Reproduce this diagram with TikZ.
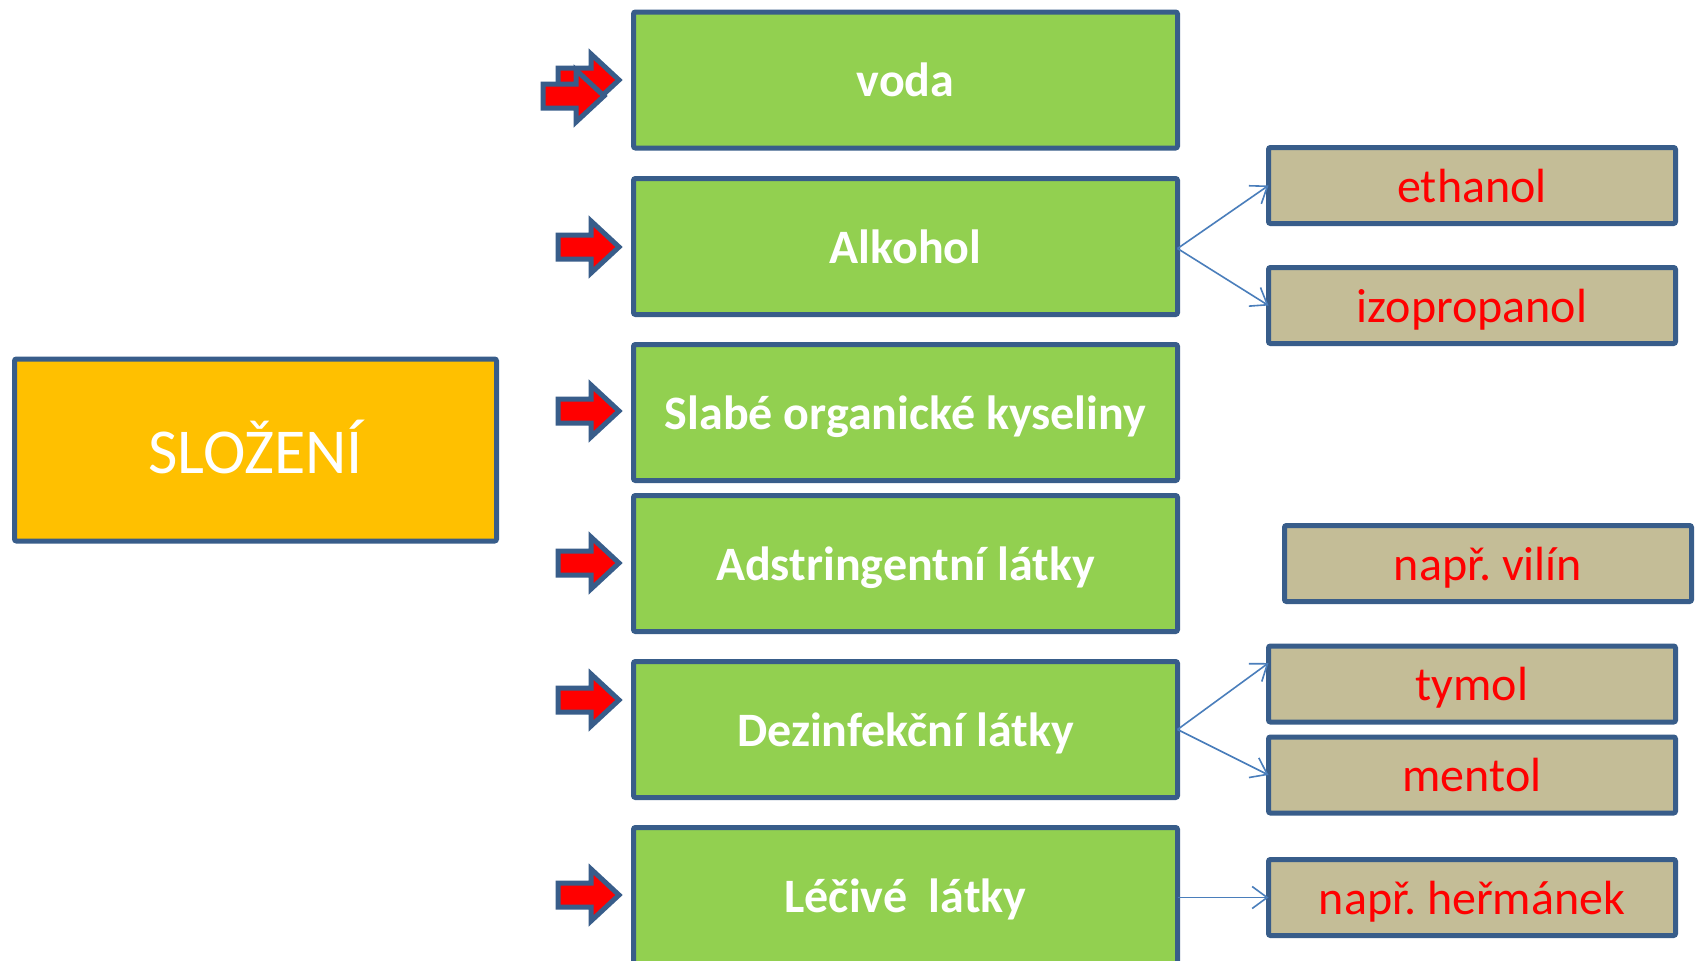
\documentclass[tikz,border=0pt]{standalone}
\usepackage{fontspec}
\setmainfont{Carlito}
\usetikzlibrary{arrows.meta}
\definecolor{bordc}{HTML}{385D8A}
\definecolor{greenc}{HTML}{92D050}
\definecolor{tanc}{HTML}{C4BD97}
\definecolor{orangec}{HTML}{FFC000}
\definecolor{connc}{HTML}{4A7EBB}
\frenchspacing
\begin{document}
\begin{tikzpicture}[x=1pt,y=-1pt,
  box/.style={draw=bordc,line width=5pt,rounded corners=2pt,inner sep=0pt,outer sep=0pt,text depth=0pt},
  greenbox/.style={box,fill=greenc,minimum width=544pt,minimum height=136pt,
    text=white,font=\fontsize{48}{52}\selectfont\bfseries},
  tanbox/.style={box,fill=tanc,minimum width=407pt,minimum height=76pt,
    text=red,font=\fontsize{48}{52}\selectfont},
  mainbox/.style={box,fill=orangec,minimum width=482pt,minimum height=182pt,
    text=white,font=\fontsize{64}{68}\selectfont,text height=46pt},
  conn/.style={draw=connc,line width=1.6pt,-{Straight Barb[length=15pt,width=22pt,line width=1.6pt]}},
  redarr/.pic={\draw[draw=bordc,fill=red,line width=5pt,miter limit=4]
    (-64,-12) -- (-31,-12) -- (-31,-26) -- (-3,0) -- (-31,26) -- (-31,12) -- (-64,12) -- cycle;}
]
\clip (0,0) rectangle (1698,961);
\fill[white] (0,0) rectangle (1698,961);

\node[mainbox] (slo) at (255.5,450) {SLOŽENÍ};

\node[greenbox] (voda) at (905.5,80) {voda};
\node[greenbox] (alk) at (905.5,246.5) {Alkohol};
\node[greenbox] (slab) at (905.5,412.5) {Slabé organické kyseliny};
\node[greenbox] (adst) at (905.5,563.5) {Adstringentní látky};
\node[greenbox] (dez) at (905.5,729.5) {Dezinfekční látky};
\node[greenbox] (lec) at (905.5,895.5) {Léčivé\ \ látky};

\node[tanbox] (eth) at (1472,185.5) {ethanol};
\node[tanbox] (izo) at (1472,305.5) {izopropanol};
\node[tanbox] (vil) at (1488,563.5) {např. vilín};
\node[tanbox] (tym) at (1472,684) {tymol};
\node[tanbox] (men) at (1472,775) {mentol};
\node[tanbox] (her) at (1472,897.5) {např. heřmánek};

\pic at (622,80) {redarr};
\pic at (607,96) {redarr};
\pic at (622,247) {redarr};
\pic at (622,411) {redarr};
\pic at (622,563) {redarr};
\pic at (622,700) {redarr};
\pic at (622,895) {redarr};

\draw[conn] ([yshift=-2pt]alk.east) -- (eth.west);
\draw[conn] ([yshift=-2pt]alk.east) -- (izo.west);
\draw[conn] (dez.east) -- ([yshift=21pt]tym.west);
\draw[conn] (dez.east) -- (men.west);
\draw[conn] (her.west -| lec.east) -- (her.west);
\end{tikzpicture}
\end{document}
